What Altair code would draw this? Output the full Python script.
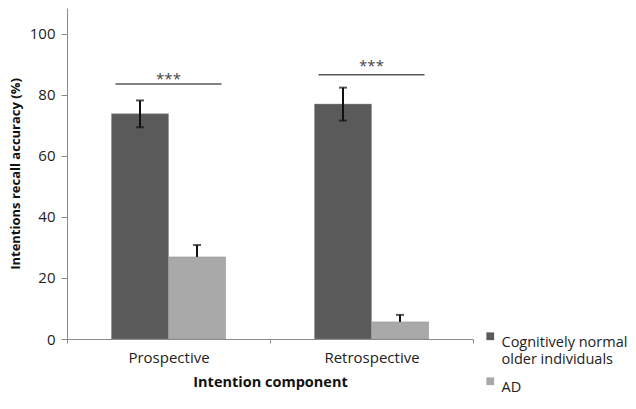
import altair as alt
import pandas as pd

components = ["Prospective", "Retrospective"]
groups = ["Cognitively normal older individuals", "AD"]
cn_values = [73.8, 77.0]
cn_err = [4.4, 5.4]
ad_values = [26.9, 5.6]
ad_err = [3.9, 2.3]
sig_y = [83.6, 86.6]
star_y = [85.1, 89.5]
stars = ["***", "***"]

rows = []
for i, c in enumerate(components):
    rows.append({"component": c, "group": groups[0], "value": cn_values[i],
                 "low": cn_values[i] - cn_err[i], "high": cn_values[i] + cn_err[i]})
    rows.append({"component": c, "group": groups[1], "value": ad_values[i],
                 "low": ad_values[i], "high": ad_values[i] + ad_err[i]})
df = pd.DataFrame(rows)
sig = pd.DataFrame({"component": components, "y": sig_y, "sy": star_y, "stars": stars})

FONT = "Open Sans"
ydom = [0, 108.5]
xscale = alt.Scale(domain=components, paddingInner=0, paddingOuter=0)
xoff = alt.XOffset("group:N", sort=groups, scale=alt.Scale(domain=groups, paddingInner=0, paddingOuter=0.78))

bars = alt.Chart(df).mark_bar(stroke="#8c8c8c", strokeWidth=0.5).encode(
    x=alt.X("component:N", sort=components, scale=xscale,
            axis=alt.Axis(title="Intention component", labelAngle=0, tickBand="extent", grid=False,
                          domainColor="#8a8a8a", tickColor="#8a8a8a", tickSize=4,
                          labelFont=FONT, labelFontSize=15, labelColor="#222", labelPadding=7,
                          titleFont=FONT, titleFontSize=14.5, titleFontWeight="bold",
                          titleColor="#111", titlePadding=10)),
    xOffset=xoff,
    y=alt.Y("value:Q", scale=alt.Scale(domain=ydom, nice=False),
            axis=alt.Axis(title="Intentions recall accuracy (%)", values=[0, 20, 40, 60, 80, 100],
                          grid=False, domainColor="#8a8a8a", tickColor="#8a8a8a", tickSize=6,
                          labelFont=FONT, labelFontSize=15, labelColor="#222", labelPadding=6,
                          titleFont=FONT, titleFontSize=13, titleFontWeight="bold",
                          titleColor="#111", titlePadding=7)),
    color=alt.Color("group:N", sort=groups,
                    scale=alt.Scale(domain=groups, range=["#5a5a5a", "#a9a9a9"]),
                    legend=alt.Legend(title=None, orient="none", legendX=416, legendY=321,
                                      symbolType="square", symbolSize=60, symbolStrokeWidth=0,
                                      labelFont=FONT, labelFontSize=14.5, labelColor="#222",
                                      labelLimit=200, rowPadding=7, labelOffset=4,
                                      labelBaseline="top",
                                      labelExpr="datum.label == 'AD' ? 'AD' : ['Cognitively normal', 'older individuals']")),
)

err_rule = alt.Chart(df).mark_rule(color="#111", strokeWidth=2).encode(
    x=alt.X("component:N", sort=components, scale=xscale),
    xOffset=xoff,
    y=alt.Y("low:Q", scale=alt.Scale(domain=ydom, nice=False)),
    y2="high:Q",
)
cap_hi = alt.Chart(df).mark_tick(color="#111", thickness=2, size=8).encode(
    x=alt.X("component:N", sort=components, scale=xscale),
    xOffset=xoff,
    y=alt.Y("high:Q", scale=alt.Scale(domain=ydom, nice=False)),
)
cap_lo = alt.Chart(df[df["group"] == groups[0]]).mark_tick(color="#111", thickness=2, size=8).encode(
    x=alt.X("component:N", sort=components, scale=xscale),
    xOffset=xoff,
    y=alt.Y("low:Q", scale=alt.Scale(domain=ydom, nice=False)),
)
sig_line = alt.Chart(sig).mark_tick(color="#111", thickness=1.5, size=106).encode(
    x=alt.X("component:N", sort=components, scale=xscale),
    y=alt.Y("y:Q", scale=alt.Scale(domain=ydom, nice=False)),
)
sig_text = alt.Chart(sig).mark_text(font=FONT, fontSize=15, color="#444").encode(
    x=alt.X("component:N", sort=components, scale=xscale),
    y=alt.Y("sy:Q", scale=alt.Scale(domain=ydom, nice=False)),
    text="stars:N",
)

chart = alt.layer(bars, err_rule, cap_hi, cap_lo, sig_line, sig_text).properties(
    width=406, height=331,
    background="white",
    autosize=alt.AutoSizeParams(type="none"),
    padding={"left": 59, "top": 0, "right": 155, "bottom": 62},
).configure_view(strokeWidth=0)

chart.save("out.html", embed_options={"renderer": "svg", "actions": False})
